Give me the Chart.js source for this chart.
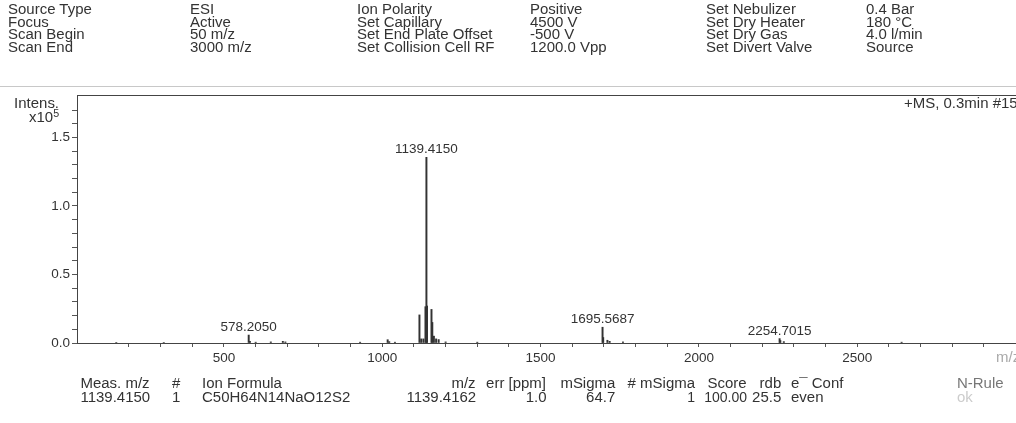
<!DOCTYPE html>
<html>
<head>
<meta charset="utf-8">
<script src="https://cdn.jsdelivr.net/npm/chart.js@4.4.1/dist/chart.umd.min.js"></script>
<style>
  html, body { margin: 0; padding: 0; background: #fff; }
  body { width: 1016px; height: 423px; overflow: hidden; position: relative;
         font-family: "Liberation Sans", Arial, sans-serif; color: #333; }
  #c { position: absolute; left: 0; top: 0; }
  .t { position: absolute; font-size: 14px; line-height: 14px; white-space: nowrap;
       transform: scaleX(1.07); }
  .tl { transform-origin: left top; }
  .tr { transform-origin: right top; }
  .col { position: absolute; top: 3px; font-size: 14px; line-height: 12.6px; white-space: pre;
         transform: scaleX(1.07); transform-origin: left top; }
  .sep { position: absolute; left: 0; top: 86px; width: 1016px; height: 1px; background: #c8c8c8; }
  sup { font-size: 10px; line-height: 0; vertical-align: 5px; }
</style>
</head>
<body>
<canvas id="c" width="1040" height="423"></canvas>

<div class="col" style="left:8px">Source Type
Focus
Scan Begin
Scan End</div>
<div class="col" style="left:190px">ESI
Active
50 m/z
3000 m/z</div>
<div class="col" style="left:357px">Ion Polarity
Set Capillary
Set End Plate Offset
Set Collision Cell RF</div>
<div class="col" style="left:530px">Positive
4500 V
-500 V
1200.0 Vpp</div>
<div class="col" style="left:706px">Set Nebulizer
Set Dry Heater
Set Dry Gas
Set Divert Valve</div>
<div class="col" style="left:866px">0.4 Bar
180 °C
4.0 l/min
Source</div>
<div class="sep"></div>

<div class="t tr" style="right:957px; top:96px">Intens.</div>
<div class="t tr" style="right:957px; top:110px">x10<sup>5</sup></div>
<div class="t tl" style="left:904px; top:96px">+MS, 0.3min #15</div>
<div class="t tl" style="left:996px; top:350px; color:#aaa">m/z</div>

<div id="table"></div>

<script>
// spectrum peaks (m/z, intensity in units of 1e5)
const mzValues = [160, 310, 578.2050, 582, 600.2, 648, 686, 694, 930, 1017, 1022, 1040,
  1117.4, 1123, 1130, 1136.4, 1139.4150, 1141.4, 1155.4, 1158, 1163, 1170, 1178, 1200, 1300,
  1695.5687, 1697.6, 1711, 1718, 1760, 2254.7015, 2257, 2268, 2640];
const intensities = [0.004, 0.004, 0.058, 0.012, 0.006, 0.008, 0.012, 0.008, 0.006, 0.024, 0.01, 0.006,
  0.205, 0.03, 0.03, 0.265, 1.355, 0.27, 0.245, 0.15, 0.05, 0.03, 0.025, 0.008, 0.006,
  0.115, 0.04, 0.02, 0.012, 0.008, 0.032, 0.018, 0.01, 0.006];
const labelledPeaks = ['578.2050', '1139.4150', '1695.5687', '2254.7015'];

const xMin = 36, xMax = 3077;
const yMin = 0, yMax = 1.81;
const xStep = 100, xLabelEvery = 500;
const yStep = 0.1, yLabelEvery = 0.5;

// formula table
const tableHeader = ['Meas. m/z', '#', 'Ion Formula', 'm/z', 'err [ppm]', 'mSigma', '# mSigma', 'Score', 'rdb', 'e\u00AF Conf', 'N-Rule'];
const tableRow = ['1139.4150', '1', 'C50H64N14NaO12S2', '1139.4162', '1.0', '64.7', '1', '100.00', '25.5', 'even', 'ok'];
const colPos = [[150, 'r'], [172, 'l'], [202, 'l'], [476, 'r'], [546, 'r'], [615, 'r'], [695, 'r'], [747, 'r'], [781, 'r'], [791, 'l'], [957, 'l']];

const tbl = document.getElementById('table');
[[tableHeader, 376], [tableRow, 390]].forEach(([cells, top], row) => {
  cells.forEach((txt, i) => {
    const d = document.createElement('div');
    const [x, a] = colPos[i];
    d.className = 't ' + (a === 'r' ? 'tr' : 'tl');
    d.textContent = txt;
    d.style.top = top + 'px';
    if (a === 'r') d.style.right = (1016 - x) + 'px';
    else d.style.left = x + 'px';
    if (row === 1 && (i === 6 || i === 7)) d.style.transform = 'none';
    if (i === 10) d.style.color = row ? '#ccc' : '#777';
    tbl.appendChild(d);
  });
});

const near = (v, s) => Math.abs(v / s - Math.round(v / s)) < 1e-6;

const framePlugin = {
  id: 'frame',
  afterDatasetsDraw(chart) {
    const {ctx, chartArea: a} = chart;
    ctx.save();
    ctx.strokeStyle = '#444';
    ctx.lineWidth = 1;
    ctx.strokeRect(a.left + 0.5, a.top + 0.5, a.right - a.left, a.bottom - a.top);
    // peak labels
    const xs = chart.scales.x, ys = chart.scales.y;
    ctx.fillStyle = '#333';
    ctx.font = '13.5px "Liberation Sans", Arial, sans-serif';
    ctx.textAlign = 'center';
    ctx.textBaseline = 'alphabetic';
    labelledPeaks.forEach(lbl => {
      const i = mzValues.indexOf(parseFloat(lbl));
      const px = xs.getPixelForValue(mzValues[i]);
      const py = ys.getPixelForValue(intensities[i]);
      ctx.fillText(lbl, px, py - 4);
    });
    ctx.restore();
  }
};

new Chart(document.getElementById('c'), {
  type: 'bar',
  data: {
    datasets: [{
      data: mzValues.map((m, i) => ({x: m, y: intensities[i]})),
      backgroundColor: '#333',
      borderWidth: 0,
      barThickness: 1.3,
      grouped: false
    }]
  },
  options: {
    responsive: false,
    animation: false,
    events: [],
    layout: { padding: { top: 95, left: 0, right: 0, bottom: 0 } },
    plugins: { legend: { display: false }, tooltip: { enabled: false } },
    scales: {
      x: {
        type: 'linear',
        offset: false,
        min: xMin, max: xMax,
        afterFit: s => { s.height = 80; },
        afterBuildTicks: s => { s.ticks = s.ticks.filter(t => near(t.value, xStep)); },
        border: { display: true, color: '#444', width: 1 },
        grid: { offset: false, drawOnChartArea: false, drawTicks: true, tickLength: 4, color: '#555' },
        ticks: {
          stepSize: xStep, autoSkip: false, maxRotation: 0, padding: 3,
          color: '#333', font: { family: '"Liberation Sans", Arial, sans-serif', size: 13.5 },
          callback: v => near(v, xLabelEvery) ? String(v) : ''
        }
      },
      y: {
        min: yMin, max: yMax,
        afterFit: s => { s.width = 77; },
        afterBuildTicks: s => { s.ticks = s.ticks.filter(t => near(t.value, yStep)); },
        border: { display: true, color: '#444', width: 1 },
        grid: { drawOnChartArea: false, drawTicks: true, tickLength: 5, color: '#555' },
        ticks: {
          stepSize: yStep, autoSkip: false, padding: 2,
          color: '#333', font: { family: '"Liberation Sans", Arial, sans-serif', size: 13.5 },
          callback: v => near(v, yLabelEvery) ? v.toFixed(1) : ''
        }
      }
    }
  },
  plugins: [framePlugin]
});
</script>
</body>
</html>
